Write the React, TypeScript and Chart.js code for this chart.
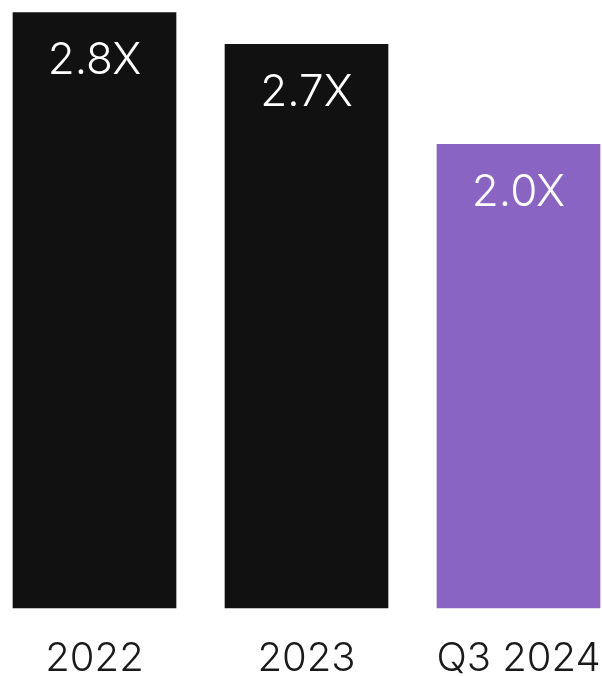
import React, { useEffect, useRef } from "react";
import { Chart, registerables } from "chart.js";

Chart.register(...registerables);

const categories = ["2022", "2023", "Q3 2024"];
// bar heights as drawn in the picture (value units, 0 baseline)
const barValues = [2.8, 2.65, 2.18];
const valueLabels = ["2.8X", "2.7X", "2.0X"];
const barColors = ["#111111", "#111111", "#8964C3"];

const FONT = "Inter, 'Liberation Sans', sans-serif";

const valueLabelPlugin = {
  id: "valueLabels",
  afterDatasetsDraw(chart: any) {
    const ctx = chart.ctx;
    const meta = chart.getDatasetMeta(0);
    ctx.save();
    ctx.fillStyle = "#ffffff";
    ctx.font = `300 44px ${FONT}`;
    ctx.textAlign = "center";
    ctx.textBaseline = "middle";
    meta.data.forEach((el: any, i: number) => {
      ctx.fillText(valueLabels[i], el.x, el.y + 48);
    });
    ctx.restore();
  },
};

export default function App() {
  const ref = useRef<HTMLCanvasElement>(null);
  useEffect(() => {
    document.body.style.margin = "0";
    const chart = new Chart(ref.current!, {
      type: "bar",
      data: {
        labels: categories,
        datasets: [
          {
            data: barValues,
            backgroundColor: barColors,
            borderWidth: 0,
            barThickness: 163,
            clip: false as any,
          },
        ],
      },
      options: {
        animation: false,
        responsive: false,
        maintainAspectRatio: false,
        events: [],
        layout: { padding: { left: 94.5, right: 83.5, top: 12.5, bottom: 0 } },
        plugins: { legend: { display: false }, tooltip: { enabled: false } },
        scales: {
          x: {
            offset: false,
            grid: { display: false, drawTicks: false },
            border: { display: false },
            ticks: {
              color: "#1a1a1a",
              font: { family: FONT, size: 40, weight: "300" as any, lineHeight: 1 },
              padding: 31,
              maxRotation: 0,
              autoSkip: false,
            },
            afterFit: (scale: any) => {
              scale.height = 68;
              scale.paddingLeft = 0;
              scale.paddingRight = 0;
            },
          },
          y: {
            display: false,
            min: 0,
            max: 2.8,
          },
        },
      },
      plugins: [valueLabelPlugin],
    });
    return () => chart.destroy();
  }, []);
  return (
    <div style={{ width: 602, height: 676 }}>
      <canvas ref={ref} width={602} height={676} style={{ display: "block" }} />
    </div>
  );
}
